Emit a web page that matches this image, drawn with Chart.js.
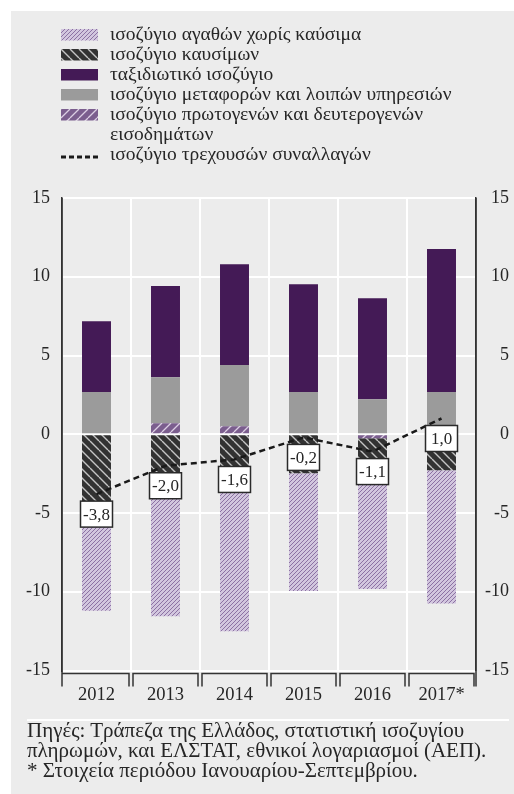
<!DOCTYPE html>
<html>
<head>
<meta charset="utf-8">
<script src="https://cdn.jsdelivr.net/npm/chart.js@4.4.0/dist/chart.umd.min.js"></script>
<style>
  body { margin: 0; background: #fff; }
  #wrap { position: relative; width: 514px; height: 794px; overflow: hidden; }
  #panel { position: absolute; left: 11px; top: 11px; right: 0; bottom: 0; background: #ececec; }
  #myChart { position: absolute; left: 0; top: 0; }
  .serif { font-family: "Liberation Serif", "DejaVu Serif", serif; color: #262626; }
  #legend { position: absolute; left: 0; top: 24px; width: 514px; font-size: 19.5px; line-height: 20px; }
  .row { position: relative; height: 20px; padding-left: 110px; white-space: nowrap; }
  .row.two { height: 40px; }
  .row canvas { position: absolute; left: 61px; top: 5px; }
  #rule { position: absolute; left: 27px; top: 719px; width: 482px; height: 2px; background: #fff; }
  #source { position: absolute; left: 27px; top: 720px; font-size: 21px; line-height: 20px; white-space: nowrap; }
</style>
</head>
<body>
<div id="wrap">
  <div id="panel"></div>
  <canvas id="myChart" width="514" height="794"></canvas>
  <div id="legend" class="serif">
    <div class="row"><canvas id="sw0" width="37" height="12"></canvas>ισοζύγιο αγαθών χωρίς καύσιμα</div>
    <div class="row"><canvas id="sw1" width="37" height="12"></canvas>ισοζύγιο καυσίμων</div>
    <div class="row"><canvas id="sw2" width="37" height="12"></canvas>ταξιδιωτικό ισοζύγιο</div>
    <div class="row"><canvas id="sw3" width="37" height="12"></canvas>ισοζύγιο μεταφορών και λοιπών υπηρεσιών</div>
    <div class="row two"><canvas id="sw4" width="37" height="12"></canvas>ισοζύγιο πρωτογενών και δευτερογενών<br>εισοδημάτων</div>
    <div class="row"><canvas id="sw5" width="37" height="12"></canvas>ισοζύγιο τρεχουσών συναλλαγών</div>
  </div>
  <div id="rule"></div>
  <div id="source" class="serif">
    Πηγές: Τράπεζα της Ελλάδος, στατιστική ισοζυγίου<br>
    πληρωμών, και ΕΛΣΤΑΤ, εθνικοί λογαριασμοί (ΑΕΠ).<br>
    * Στοιχεία περιόδου Ιανουαρίου-Σεπτεμβρίου.
  </div>
</div>
<script>
// values in % of GDP
const years = ['2012', '2013', '2014', '2015', '2016', '2017*'];
const goodsExFuel = [-6.9, -8.65, -10.2, -7.48, -7.28, -8.45];
const fuel = [-4.3, -2.9, -2.3, -2.48, -2.3, -2.29];
const travel = [4.49, 5.79, 6.41, 6.84, 6.42, 9.07];
const transportOther = [2.69, 2.92, 3.88, 2.69, 2.22, 2.69];
const incomeBal = [0, 0.7, 0.51, 0, -0.25, 0];
const currentAccount = [-3.8, -2.0, -1.6, -0.2, -1.1, 1.0];
const yTicks = [-15, -10, -5, 0, 5, 10, 15];

const FONT = '"Liberation Serif", "DejaVu Serif", serif';
const TEXT = '#262626';

// hatch patterns
function makePattern(bg, fg, size, lw, dir) {
  var c = document.createElement('canvas');
  c.width = size; c.height = size;
  var g = c.getContext('2d');
  g.fillStyle = bg;
  g.fillRect(0, 0, size, size);
  g.strokeStyle = fg;
  g.lineWidth = lw;
  g.beginPath();
  for (var k = -1; k <= 1; k++) {
    if (dir === '/') {
      g.moveTo(k * size, size); g.lineTo(k * size + size, 0);
    } else {
      g.moveTo(k * size, 0); g.lineTo(k * size + size, size);
    }
  }
  g.stroke();
  return g.createPattern(c, 'repeat');
}

const goodsFill = makePattern('#d2c6de', '#8c72a3', 4, 1, '/');
const fuelFill = makePattern('#323232', '#c4c4c4', 9, 1.4, '\\');
const travelFill = '#441a56';
const transportFill = '#9b9b9b';
const incomeFill = makePattern('#7b5e8e', '#dccfe4', 9, 1.3, '/');

// legend swatches
[goodsFill, fuelFill, travelFill, transportFill, incomeFill].forEach((f, i) => {
  var g = document.getElementById('sw' + i).getContext('2d');
  g.fillStyle = f;
  g.fillRect(0, 0, 37, 11.5);
});
(function () {
  var g = document.getElementById('sw5').getContext('2d');
  g.strokeStyle = '#1a1a1a';
  g.lineWidth = 3;
  g.setLineDash([5, 3]);
  g.beginPath();
  g.moveTo(0, 8); g.lineTo(37, 8);
  g.stroke();
})();

// x axis brackets under each year + axis lines running down to them
const bracketPlugin = {
  id: 'brackets',
  afterDraw(chart) {
    const ctx = chart.ctx;
    const area = chart.chartArea;
    const n = years.length;
    const w = (area.right - area.left) / n;
    const yb = area.bottom + 3;
    const yEnd = area.bottom + 16;
    ctx.save();
    ctx.strokeStyle = '#333';
    ctx.lineWidth = 1.5;
    ctx.beginPath();
    for (let i = 0; i < n; i++) {
      const l = area.left + i * w + (i === 0 ? 0 : 2);
      const r = area.left + (i + 1) * w - 2;
      ctx.moveTo(l, yEnd); ctx.lineTo(l, yb); ctx.lineTo(r, yb); ctx.lineTo(r, yEnd);
    }
    ctx.moveTo(area.left, area.top); ctx.lineTo(area.left, yEnd);
    ctx.moveTo(area.right, area.top); ctx.lineTo(area.right, yEnd);
    ctx.stroke();
    ctx.restore();
  }
};

// boxed value labels under the current account points
const boxLabels = {
  id: 'boxLabels',
  afterDatasetsDraw(chart) {
    const ctx = chart.ctx;
    const idx = chart.data.datasets.findIndex(d => d.type === 'line');
    const meta = chart.getDatasetMeta(idx);
    ctx.save();
    ctx.font = '17px ' + FONT;
    ctx.textAlign = 'center';
    ctx.textBaseline = 'middle';
    meta.data.forEach((pt, i) => {
      const cx = pt.x, cy = pt.y + 20;
      ctx.fillStyle = '#fff';
      ctx.fillRect(cx - 16, cy - 13, 32, 26);
      ctx.strokeStyle = '#2a2a2a';
      ctx.lineWidth = 1.5;
      ctx.strokeRect(cx - 16, cy - 13, 32, 26);
      ctx.fillStyle = TEXT;
      ctx.fillText(currentAccount[i].toFixed(1).replace('.', ','), cx, cy + 1);
    });
    ctx.restore();
  }
};

const yTickOpts = {
  color: TEXT,
  font: { family: FONT, size: 18 },
  callback: v => String(v)
};

const ctx = document.getElementById('myChart').getContext('2d');
const myChart = new Chart(ctx, {
  type: 'bar',
  data: {
    labels: years,
    datasets: [
      { label: 'ισοζύγιο πρωτογενών και δευτερογενών εισοδημάτων', data: incomeBal, backgroundColor: incomeFill, order: 1 },
      { label: 'ισοζύγιο καυσίμων', data: fuel, backgroundColor: fuelFill, order: 1 },
      { label: 'ισοζύγιο μεταφορών και λοιπών υπηρεσιών', data: transportOther, backgroundColor: transportFill, order: 1 },
      { label: 'ισοζύγιο αγαθών χωρίς καύσιμα', data: goodsExFuel, backgroundColor: goodsFill, order: 1 },
      { label: 'ταξιδιωτικό ισοζύγιο', data: travel, backgroundColor: travelFill, order: 1 },
      {
        type: 'line',
        label: 'ισοζύγιο τρεχουσών συναλλαγών',
        data: currentAccount,
        stack: 'ca',
        borderColor: '#1a1a1a',
        borderWidth: 2.5,
        borderDash: [6, 4],
        pointRadius: 0,
        tension: 0,
        fill: false,
        order: 0
      }
    ]
  },
  options: {
    responsive: false,
    animation: false,
    devicePixelRatio: 1,
    layout: { padding: { top: 198, left: 0, right: 5, bottom: 83.5 } },
    datasets: { bar: { barPercentage: 0.42, categoryPercentage: 1, borderWidth: 0 } },
    plugins: { legend: { display: false }, tooltip: { enabled: false } },
    scales: {
      x: {
        stacked: true,
        grid: { color: '#fff', lineWidth: 2, drawTicks: false, offset: true },
        border: { display: false },
        ticks: { color: TEXT, font: { family: FONT, size: 18.5 }, padding: 14, maxRotation: 0, autoSkip: false },
        afterFit: s => { s.height = 40; }
      },
      y: {
        stacked: true,
        position: 'left',
        min: -15, max: 15,
        afterBuildTicks: s => { s.ticks = yTicks.map(v => ({ value: v })); },
        grid: { color: '#fff', lineWidth: 2, drawTicks: false },
        border: { color: '#333', width: 1.5 },
        ticks: Object.assign({ padding: 12 }, yTickOpts),
        afterFit: s => { s.width = 62; }
      },
      y2: {
        position: 'right',
        min: -15, max: 15,
        afterBuildTicks: s => { s.ticks = yTicks.map(v => ({ value: v })); },
        grid: { drawOnChartArea: false, drawTicks: false },
        border: { color: '#333', width: 1.5 },
        ticks: Object.assign({ padding: 9, crossAlign: 'far' }, yTickOpts),
        afterFit: s => { s.width = 33; }
      }
    }
  },
  plugins: [bracketPlugin, boxLabels]
});
</script>
</body>
</html>
